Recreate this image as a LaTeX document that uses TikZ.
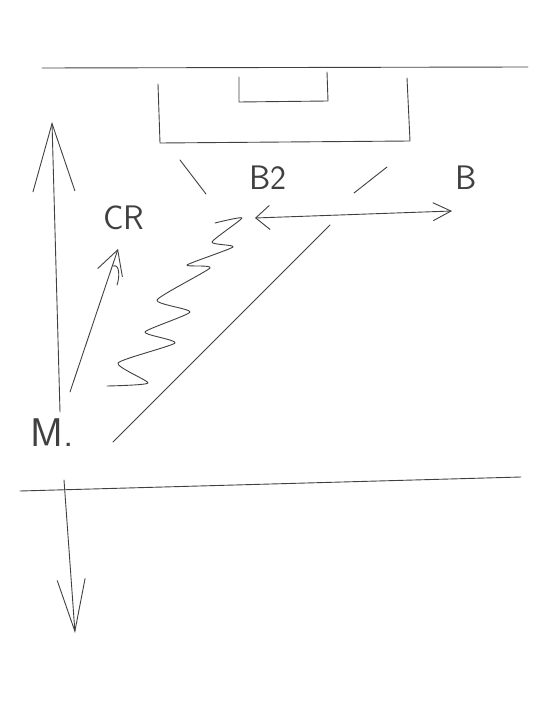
\documentclass[tikz,border=0pt]{standalone}
\usetikzlibrary{arrows.meta,decorations.pathmorphing,positioning}
\tikzset{
  pen/.style={line width=0.9pt, line cap=round, line join=round, draw=black!75},
  sketch text/.style={font=\sffamily\fontsize{34}{34}\selectfont, inner sep=0pt, text=black!75},
  barb/.style 2 args={-{Straight Barb[length=#1, width=#2]}},
}
\begin{document}
\begin{tikzpicture}[x=1pt,y=-1pt]
  \useasboundingbox (0,0) rectangle (550,719);
  % surfaces
  \coordinate (top l) at (42,68);
  \coordinate (top r) at (528,67);
  \coordinate (bot l) at (20,491);
  \coordinate (bot r) at (521,477);
  \draw[pen] (top l) -- (top r);
  \draw[pen] (bot l) -- (bot r);
  % housing and inner box
  \draw[pen] (158,84) -- (160,143) -- (410,141) -- (407,78);
  \draw[pen] (239,77) -- (239,102) -- (328,101) -- (327,72);
  % labels
  \node[sketch text] (b2) at (268,178) {B2};
  \node[sketch text] (bfield) at (466,178) {B};
  \node[sketch text] (cr) at (124,218) {CR};
  \node[sketch text, font=\sffamily\fontsize{40}{40}\selectfont] (m) at (52,433) {M.};
  \draw[pen] (180,160) -- (206,194);
  \draw[pen] (354,193) -- (387,167);
  % axis up and down
  \coordinate (up start) at (60,412);
  \coordinate (up end) at (52,122);
  \coordinate (down start) at (64,480);
  \coordinate (down end) at (75,633);
  \draw[pen, barb={68pt}{42pt}] (up start) -- (up end);
  \draw[pen, barb={52pt}{28pt}] (down start) -- (down end);
  % beams from M
  \coordinate (cr foot) at (70,392);
  \coordinate (cr tip) at (118,249);
  \draw[pen, barb={24pt}{26pt}] (cr foot) -- (cr tip);
  \draw[pen] (113,266) to[out=20,in=70] (117,285);
  \coordinate (wave start) at (107,386);
  \coordinate (wave end) at (215,223);
  \draw[pen] plot[smooth, tension=0.35] coordinates {(107,386) (148,383) (118,363) (175,343)
    (145,332) (190,312) (157,300) (210,268) (187,265) (233,247) (212,242) (242,218) (215,223)};
  \coordinate (diag start) at (113,442);
  \coordinate (diag end) at (330,225);
  \draw[pen] (diag start) -- (diag end);
  % double arrow
  \coordinate (span l) at (255,218);
  \coordinate (span r) at (452,211);
  \draw[pen, {Straight Barb[length=14pt,width=24pt]}-{Straight Barb[length=18pt,width=18pt]}] (span l) -- (span r);
\end{tikzpicture}
\end{document}
